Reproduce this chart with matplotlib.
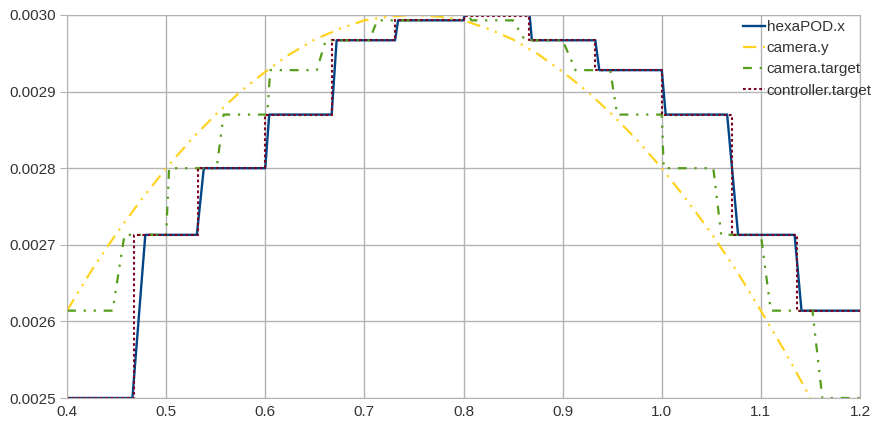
import matplotlib.pyplot as plt
from matplotlib.ticker import FormatStrFormatter

plt.rcParams['font.family'] = ['Liberation Sans', 'DejaVu Sans']

# hexaPOD.x (vertices of the stepped line)
hexa_x = [0.403, 0.466, 0.479, 0.531, 0.538, 0.600, 0.604, 0.667, 0.672, 0.731, 0.734,
          0.800, 0.803, 0.866, 0.869, 0.933, 0.937, 1.000, 1.004, 1.066, 1.077, 1.134,
          1.141, 1.200]
hexa_y = [0.002500, 0.002500, 0.002713, 0.002713, 0.002800, 0.002800, 0.002870, 0.002870,
          0.002967, 0.002967, 0.002993, 0.002993, 0.003010, 0.003010, 0.002967, 0.002967,
          0.002928, 0.002928, 0.002870, 0.002870, 0.002713, 0.002713, 0.002614, 0.002614]

# camera.y
cam_x = [0.400, 0.425, 0.450, 0.475, 0.500, 0.525, 0.550, 0.575, 0.600, 0.625, 0.650,
         0.675, 0.700, 0.725, 0.750, 0.775, 0.800, 0.825, 0.850, 0.875, 0.900, 0.925,
         0.950, 0.975, 1.000, 1.025, 1.050, 1.075, 1.100, 1.125, 1.150, 1.175, 1.200]
cam_y = [0.002614, 0.002667, 0.002715, 0.002759, 0.002800, 0.002837, 0.002870, 0.002900,
         0.002926, 0.002949, 0.002968, 0.002982, 0.002993, 0.002998, 0.003000, 0.002998,
         0.002993, 0.002982, 0.002968, 0.002949, 0.002926, 0.002900, 0.002870, 0.002837,
         0.002800, 0.002759, 0.002715, 0.002667, 0.002614, 0.002559, 0.002500, 0.002437,
         0.002370]

# camera.target
tgt_x = [0.400, 0.446, 0.458, 0.500, 0.503, 0.551, 0.558, 0.602, 0.605, 0.652, 0.661,
         0.705, 0.713, 0.755, 0.760, 0.805, 0.808, 0.850, 0.862, 0.900, 0.913, 0.948,
         0.955, 1.000, 1.002, 1.052, 1.060, 1.100, 1.110, 1.152, 1.162, 1.200]
tgt_y = [0.002614, 0.002614, 0.002713, 0.002713, 0.002800, 0.002800, 0.002870, 0.002870,
         0.002928, 0.002928, 0.002967, 0.002967, 0.002993, 0.002993, 0.003000, 0.003000,
         0.002993, 0.002993, 0.002967, 0.002967, 0.002928, 0.002928, 0.002870, 0.002870,
         0.002800, 0.002800, 0.002713, 0.002713, 0.002614, 0.002614, 0.002500, 0.002500]

# controller.target (steps, value holds until the next time)
ctrl_x = [0.400, 0.4675, 0.532, 0.600, 0.667, 0.731, 0.801, 0.866, 0.933, 1.000, 1.0705,
          1.136, 1.200]
ctrl_y = [0.002500, 0.002713, 0.002800, 0.002870, 0.002967, 0.002993, 0.002999, 0.002967,
          0.002928, 0.002870, 0.002713, 0.002614, 0.002614]

fig = plt.figure(figsize=(8.76, 4.26), dpi=100)
ax = fig.add_axes([67/876, 1-398/426, (860-67)/876, (398-15)/426])

ax.plot(hexa_x, hexa_y, color='#004586', lw=1.7, label='hexaPOD.x')
ax.plot(cam_x, cam_y, color='#ffd320', lw=1.6, dashes=[6, 3, 1, 3, 1, 3], label='camera.y')
ax.plot(tgt_x, tgt_y, color='#579d1c', lw=1.6, dashes=[4, 3.5, 1, 3.5, 1, 3.5], label='camera.target')
ax.plot(ctrl_x, ctrl_y, color='#7e0021', lw=1.5, dashes=[1.3, 1.3], drawstyle='steps-post',
        label='controller.target')

ax.set_xlim(0.4, 1.2)
ax.set_ylim(0.0025, 0.0030)
ax.set_xticks([0.4, 0.5, 0.6, 0.7, 0.8, 0.9, 1.0, 1.1, 1.2])
ax.set_yticks([0.0025, 0.0026, 0.0027, 0.0028, 0.0029, 0.0030])
ax.xaxis.set_major_formatter(FormatStrFormatter('%.1f'))
ax.yaxis.set_major_formatter(FormatStrFormatter('%.4f'))
ax.grid(True, color='#b3b3b3', lw=1)
ax.set_axisbelow(True)
for s in ax.spines.values():
    s.set_color('#b3b3b3')
ax.tick_params(axis='y', length=5, color='#b3b3b3', pad=3, labelsize=11, labelcolor='#333333')
ax.tick_params(axis='x', length=0, pad=5, labelsize=11, labelcolor='#333333')

leg = ax.legend(loc='upper left', bbox_to_anchor=(743/876, 1-20/426), bbox_transform=fig.transFigure,
                frameon=False, borderpad=0, borderaxespad=0, handlelength=1.45, handletextpad=0.1,
                labelspacing=0.47, fontsize=11)
for t in leg.get_texts():
    t.set_color('#333333')

fig.savefig('out.png', dpi=100)
